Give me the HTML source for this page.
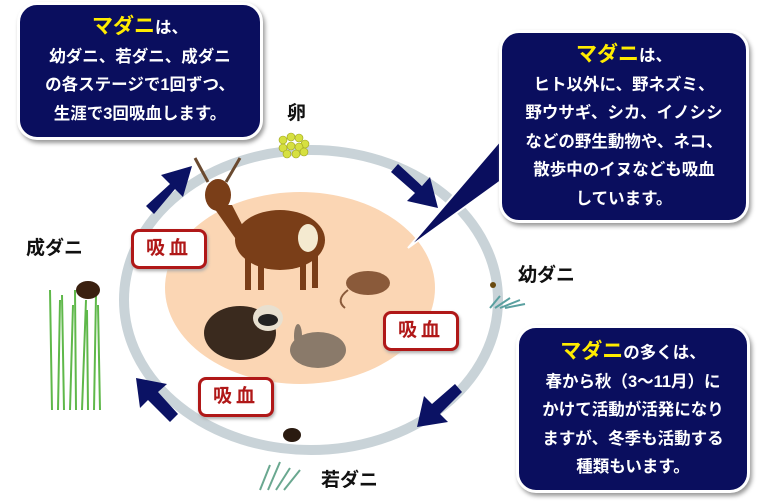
<!DOCTYPE html>
<html><head><meta charset="utf-8"><style>
body{margin:0;background:#fff;width:759px;height:501px;overflow:hidden;position:relative;font-family:"Liberation Sans","Noto Sans CJK JP",sans-serif;font-weight:bold}
.box{position:absolute;background:#0a0e5e;border:3px solid #fff;border-radius:20px;box-shadow:2px 3px 4px #999;color:#fff;text-align:center;font-size:16.5px;line-height:28.5px;box-sizing:border-box}
.y{color:#ffec00;font-size:21px}
.lbl{position:absolute;font-size:19px;color:#111}
.kk{position:absolute;width:70px;height:34px;border:3px solid #b01818;border-radius:8px;background:#fff;color:#b01818;font-size:19px;text-align:center;line-height:34px;letter-spacing:4px;box-shadow:1px 2px 3px #aaa}
</style></head><body>
<svg width="759" height="501" style="position:absolute;left:0;top:0">
<ellipse cx="300" cy="288" rx="135" ry="96" fill="#fbd6b4"/>
<ellipse cx="311" cy="300" rx="187" ry="150" fill="none" stroke="#c9d3d8" stroke-width="10"/>
<g fill="#0b1264">
<polygon points="146,206 170,184 161,175 192,166 183,197 175,189 154,214"/>
<polygon points="398,164 422,186 430,177 438,208 407,201 415,193 391,172"/>
<polygon points="462,392 440,414 448,422 417,427 424,396 432,404 455,384"/>
<polygon points="170,422 148,400 140,408 136,378 167,384 158,392 178,414"/>
</g>
<polygon points="505,135 505,178 408,248" fill="#0a0e5e" stroke="#fff" stroke-width="2"/>
<g fill="#d6e040" stroke="#9aa020" stroke-width="0.6">
<circle cx="283" cy="140" r="4"/><circle cx="291" cy="137" r="4"/><circle cx="299" cy="138" r="4"/><circle cx="305" cy="144" r="4"/><circle cx="283" cy="148" r="4"/><circle cx="291" cy="146" r="4"/><circle cx="299" cy="147" r="4"/><circle cx="287" cy="154" r="4"/><circle cx="296" cy="154" r="4"/><circle cx="304" cy="152" r="4"/>
</g>
<g fill="#7a3e18">
<path d="M195 158 L208 182 M240 158 L226 182" stroke="#6a4a30" stroke-width="3"/>
<ellipse cx="218" cy="195" rx="13" ry="16"/>
<polygon points="212,205 232,205 250,240 240,245"/>
<ellipse cx="280" cy="240" rx="45" ry="30"/>
<rect x="245" y="250" width="6" height="40"/><rect x="258" y="255" width="6" height="35"/><rect x="300" y="250" width="6" height="40"/><rect x="312" y="250" width="6" height="38"/>
</g>
<ellipse cx="308" cy="238" rx="10" ry="14" fill="#f4ead0"/>
<ellipse cx="368" cy="283" rx="22" ry="12" fill="#8a5a3a"/><path d="M348 290 Q335 300 345 308" stroke="#8a5a3a" stroke-width="2" fill="none"/>
<ellipse cx="240" cy="333" rx="36" ry="27" fill="#3a2a1e"/><ellipse cx="268" cy="318" rx="15" ry="13" fill="#e8e0d0"/><ellipse cx="268" cy="320" rx="10" ry="6" fill="#222"/>
<ellipse cx="318" cy="350" rx="28" ry="18" fill="#8a7a6a"/><ellipse cx="298" cy="336" rx="4" ry="12" fill="#8a7a6a"/>
<g stroke="#5fb84a" stroke-width="2">
<path d="M52 410 L50 290 M58 410 L60 300 M64 410 L62 295 M70 410 L73 305 M76 410 L75 290 M82 410 L86 300 M88 410 L87 310 M94 410 L96 295 M100 410 L98 305"/>
</g>
<ellipse cx="88" cy="290" rx="12" ry="9" fill="#3a2010"/>
<path d="M490 308 L500 296 M495 308 L510 298 M500 308 L520 300 M505 308 L525 304" stroke="#5aa0a0" stroke-width="2"/>
<circle cx="493" cy="285" r="3" fill="#6a4a10"/>
<path d="M260 490 L270 465 M268 490 L280 462 M276 490 L290 468 M284 490 L300 470" stroke="#6aa890" stroke-width="2"/>
<ellipse cx="292" cy="435" rx="9" ry="7" fill="#2a1a10"/>
</svg>
<div class="box" style="left:17px;top:2px;width:246px;height:138px;padding-top:8px"><span class="y">マダニ</span>は、<br>幼ダニ、若ダニ、成ダニ<br>の各ステージで1回ずつ、<br>生涯で3回吸血します。</div>
<div class="box" style="left:499px;top:30px;width:250px;height:193px;padding-top:8px"><span class="y">マダニ</span>は、<br>ヒト以外に、野ネズミ、<br>野ウサギ、シカ、イノシシ<br>などの野生動物や、ネコ、<br>散歩中のイヌなども吸血<br>しています。</div>
<div class="box" style="left:516px;top:325px;width:234px;height:168px;padding-top:10px"><span class="y">マダニ</span>の多くは、<br>春から秋（3～11月）に<br>かけて活動が活発になり<br>ますが、冬季も活動する<br>種類もいます。</div>
<div class="lbl" style="left:287px;top:98px">卵</div>
<div class="lbl" style="left:518px;top:260px">幼ダニ</div>
<div class="lbl" style="left:321px;top:465px">若ダニ</div>
<div class="lbl" style="left:26px;top:233px">成ダニ</div>
<div class="kk" style="left:131px;top:229px">吸血</div>
<div class="kk" style="left:383px;top:311px">吸血</div>
<div class="kk" style="left:198px;top:377px">吸血</div>
</body></html>
